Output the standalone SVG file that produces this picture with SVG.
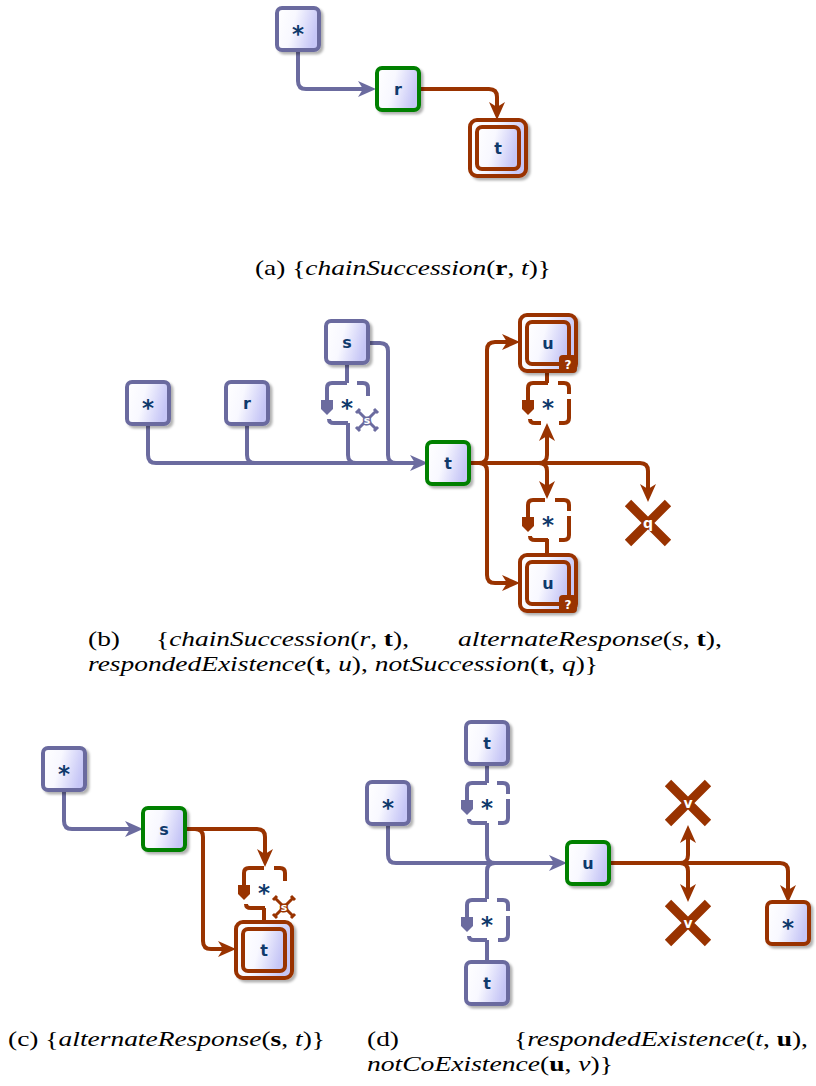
<svg xmlns="http://www.w3.org/2000/svg" width="816" height="1086" viewBox="0 0 816 1086">
<defs>
  <linearGradient id="g" x1="0" y1="0" x2="1" y2="0.25">
    <stop offset="0" stop-color="#ffffff"/>
    <stop offset="0.45" stop-color="#f8f8ff"/>
    <stop offset="1" stop-color="#c6c6f6"/>
  </linearGradient>
  <filter id="sh" x="-20%" y="-20%" width="150%" height="150%">
    <feDropShadow dx="2.5" dy="2.5" stdDeviation="1.2" flood-color="#000" flood-opacity="0.3"/>
  </filter>
  <marker id="ab" markerUnits="userSpaceOnUse" markerWidth="20" markerHeight="18" refX="6" refY="8" orient="auto" overflow="visible">
    <path d="M0,0 L18,8 L0,16 L5,8 Z" fill="#6b6b9f"/>
  </marker>
  <marker id="ar" markerUnits="userSpaceOnUse" markerWidth="20" markerHeight="18" refX="6" refY="8" orient="auto" overflow="visible">
    <path d="M0,0 L18,8 L0,16 L5,8 Z" fill="#993300"/>
  </marker>
</defs>
<style>
  .box{fill:url(#g);stroke-width:4;filter:url(#sh)}
  .in{fill:url(#g);stroke-width:4}
  .sb{stroke:#6b6b9f}
  .sr{stroke:#993300}
  .sg{stroke:#008000}
  .lbl{font-family:"DejaVu Sans",sans-serif;font-weight:bold;font-size:16px;fill:#0f3a6b;text-anchor:middle}
  .st{font-family:"DejaVu Sans",sans-serif;font-weight:bold;font-size:23px;fill:#0f3a6b;text-anchor:middle}
  .cb{fill:none;stroke:#6b6b9f;stroke-width:4}
  .cr{fill:none;stroke:#993300;stroke-width:4}
  .dl{fill:none;stroke-width:4;stroke-linecap:butt}
  .x{stroke:#993300;stroke-width:9;stroke-linecap:butt}
  .xl{font-family:"DejaVu Sans",sans-serif;font-weight:bold;font-size:14px;fill:#fff;text-anchor:middle}
  .bad{fill:#993300}
  .badt{font-family:"DejaVu Sans",sans-serif;font-weight:bold;font-size:12px;fill:#fff;text-anchor:middle}
  .sx{stroke-width:3}
  .sxl{font-family:"DejaVu Sans",sans-serif;font-weight:bold;font-size:11px;fill:#fff;stroke-width:3;paint-order:stroke;text-anchor:middle}
  .cap{font-family:"Liberation Serif",serif;font-size:22px;fill:#000}
  .it{font-style:italic}
  .bf{font-weight:bold}
</style>

<!-- ============ connectors ============ -->
<g id="connectors">
  <!-- (a) -->
  <path class="cb" d="M298 50 V81 Q298 89 306 89 H364" marker-end="url(#ab)"/>
  <path class="cr" d="M419 89 H489 Q497 89 497 97 V108" marker-end="url(#ar)"/>

  <!-- (b) blue -->
  <path class="cb" d="M148 423 V455 Q148 463 156 463 H416" marker-end="url(#ab)"/>
  <path class="cb" d="M247 423 V455 Q247 463 255 463"/>
  <path class="cb" d="M347 363 V383"/>
  <path class="cb" d="M348 423 V455 Q348 463 356 463"/>
  <path class="cb" d="M368 343 H380 Q388 343 388 351 V455 Q388 463 396 463"/>
  <!-- (b) red -->
  <path class="cr" d="M470 463 H640 Q648 463 648 471 V490" marker-end="url(#ar)"/>
  <path class="cr" d="M479 463 Q487 463 487 455 V350 Q487 342 495 342 H508" marker-end="url(#ar)"/>
  <path class="cr" d="M479 463 Q487 463 487 471 V575 Q487 583 495 583 H508" marker-end="url(#ar)"/>
  <path class="cr" d="M539 463 Q547 463 547 455 V435" marker-end="url(#ar)"/>
  <path class="cr" d="M539 463 Q547 463 547 471 V487" marker-end="url(#ar)"/>
  <path class="cr" d="M547 371 V383"/>
  <path class="cr" d="M547 539 V556"/>

  <!-- (c) -->
  <path class="cb" d="M64 790 V821 Q64 829 72 829 H131" marker-end="url(#ab)"/>
  <path class="cr" d="M185 829 H257 Q265 829 265 837 V855" marker-end="url(#ar)"/>
  <path class="cr" d="M195 829 Q203 829 203 837 V941 Q203 949 211 949 H224" marker-end="url(#ar)"/>
  <path class="cr" d="M264 908 V923"/>

  <!-- (d) blue -->
  <path class="cb" d="M388 824 V855 Q388 863 396 863 H555" marker-end="url(#ab)"/>
  <path class="cb" d="M487 763 V783"/>
  <path class="cb" d="M487 823 V855 Q487 863 495 863"/>
  <path class="cb" d="M487 899 V871 Q487 863 495 863"/>
  <path class="cb" d="M487 940 V962"/>
  <!-- (d) red -->
  <path class="cr" d="M609 863 H780 Q788 863 788 871 V891" marker-end="url(#ar)"/>
  <path class="cr" d="M680 863 Q688 863 688 855 V837" marker-end="url(#ar)"/>
  <path class="cr" d="M680 863 Q688 863 688 871 V890" marker-end="url(#ar)"/>
</g>

<!-- ============ (a) nodes ============ -->
<g id="a-any" transform="translate(298,29)">
  <rect class="box sb" x="-21" y="-21" width="42" height="42" rx="5"/>
  <text class="st" x="0" y="13">*</text>
</g>
<g id="a-r" transform="translate(398,89)">
  <rect class="box sg" x="-21" y="-21" width="42" height="42" rx="5"/>
  <text class="lbl" x="0" y="6">r</text>
</g>
<g id="a-t" transform="translate(498,148)">
  <rect class="box sr" x="-28" y="-28" width="56" height="56" rx="7"/>
  <rect class="in sr" x="-21" y="-21" width="42" height="42" rx="5"/>
  <text class="lbl" x="0" y="6">t</text>
</g>

<!-- ============ (b) nodes ============ -->
<g id="b-any" transform="translate(148,403)">
  <rect class="box sb" x="-21" y="-21" width="42" height="42" rx="5"/>
  <text class="st" x="0" y="13">*</text>
</g>
<g id="b-r" transform="translate(247,403)">
  <rect class="box sb" x="-21" y="-21" width="42" height="42" rx="5"/>
  <text class="lbl" x="0" y="6">r</text>
</g>
<g id="b-s" transform="translate(347,342)">
  <rect class="box sb" x="-21" y="-21" width="42" height="42" rx="5"/>
  <text class="lbl" x="0" y="6">s</text>
</g>
<g id="b-s-alt" transform="translate(326,382)">
  <path class="dl sb" d="M21 1 H6 Q1 1 1 6 V19"/>
  <path d="M-5 18 H7 V27 L1 33 L-5 27 Z" fill="#6b6b9f"/>
  <path class="dl sb" d="M31 1 H37 Q42 1 42 6 V14"/>
  <path class="dl sb" d="M3 37 Q3 41 8 41 H22"/>
  <text class="st" x="21" y="34">*</text>
  <g transform="translate(41,38)">
    <path class="sx sb" d="M-9 -9 L9 9 M-9 9 L9 -9 M-11 -7 L-7 -11 M7 -11 L11 -7 M-11 7 L-7 11 M7 11 L11 7"/>
    <text class="sxl sb" x="0" y="4">s</text>
  </g>
</g>
<g id="b-t" transform="translate(448,463)">
  <rect class="box sg" x="-21" y="-21" width="42" height="42" rx="5"/>
  <text class="lbl" x="0" y="6">t</text>
</g>
<g id="b-u-top" transform="translate(548,343)">
  <rect class="box sr" x="-28" y="-28" width="56" height="56" rx="7"/>
  <rect class="in sr" x="-21" y="-21" width="42" height="42" rx="5"/>
  <text class="lbl" x="0" y="6">u</text>
  <rect class="bad" x="11" y="12" width="18" height="18" rx="4"/>
  <text class="badt" x="20" y="26">?</text>
</g>
<g id="b-u-top-alt" transform="translate(527,382)">
  <path class="dl sr" d="M21 1 H6 Q1 1 1 6 V19"/>
  <path d="M-5 18 H7 V27 L1 33 L-5 27 Z" fill="#993300"/>
  <path class="dl sr" d="M31 1 H37 Q42 1 42 6 V12"/>
  <path class="dl sr" d="M42 17 V36 Q42 41 37 41 H32"/>
  <path class="dl sr" d="M3 37 Q3 41 8 41 H14"/>
  <text class="st" x="21" y="34">*</text>
</g>
<g id="b-u-bot-alt" transform="translate(527,499)">
  <path class="dl sr" d="M18 1 H6 Q1 1 1 6 V19"/>
  <path d="M-5 18 H7 V27 L1 33 L-5 27 Z" fill="#993300"/>
  <path class="dl sr" d="M28 1 H37 Q42 1 42 6 V12"/>
  <path class="dl sr" d="M42 17 V36 Q42 41 37 41 H32"/>
  <path class="dl sr" d="M3 37 Q3 41 8 41 H21"/>
  <text class="st" x="21" y="34">*</text>
</g>
<g id="b-u-bot" transform="translate(548,583)">
  <rect class="box sr" x="-28" y="-28" width="56" height="56" rx="7"/>
  <rect class="in sr" x="-21" y="-21" width="42" height="42" rx="5"/>
  <text class="lbl" x="0" y="6">u</text>
  <rect class="bad" x="11" y="12" width="18" height="18" rx="4"/>
  <text class="badt" x="20" y="26">?</text>
</g>
<g id="b-q" transform="translate(648,523)">
  <path class="x" d="M-20 -20 L20 20 M-20 20 L20 -20"/>
  <text class="xl" x="0" y="5">q</text>
</g>

<!-- ============ (c) nodes ============ -->
<g id="c-any" transform="translate(64,769)">
  <rect class="box sb" x="-21" y="-21" width="42" height="42" rx="5"/>
  <text class="st" x="0" y="13">*</text>
</g>
<g id="c-s" transform="translate(164,829)">
  <rect class="box sg" x="-21" y="-21" width="42" height="42" rx="5"/>
  <text class="lbl" x="0" y="6">s</text>
</g>
<g id="c-alt" transform="translate(243,867)">
  <path class="dl sr" d="M21 1 H6 Q1 1 1 6 V19"/>
  <path d="M-5 18 H7 V27 L1 33 L-5 27 Z" fill="#993300"/>
  <path class="dl sr" d="M31 1 H37 Q42 1 42 6 V14"/>
  <path class="dl sr" d="M3 37 Q3 41 8 41 H22"/>
  <text class="st" x="21" y="34">*</text>
  <g transform="translate(41,40)">
    <path class="sx sr" d="M-9 -9 L9 9 M-9 9 L9 -9 M-11 -7 L-7 -11 M7 -11 L11 -7 M-11 7 L-7 11 M7 11 L11 7"/>
    <text class="sxl sr" x="0" y="4">s</text>
  </g>
</g>
<g id="c-t" transform="translate(264,950)">
  <rect class="box sr" x="-28" y="-28" width="56" height="56" rx="7"/>
  <rect class="in sr" x="-21" y="-21" width="42" height="42" rx="5"/>
  <text class="lbl" x="0" y="6">t</text>
</g>

<!-- ============ (d) nodes ============ -->
<g id="d-any" transform="translate(388,803)">
  <rect class="box sb" x="-21" y="-21" width="42" height="42" rx="5"/>
  <text class="st" x="0" y="13">*</text>
</g>
<g id="d-t-top" transform="translate(487,743)">
  <rect class="box sb" x="-21" y="-21" width="42" height="42" rx="5"/>
  <text class="lbl" x="0" y="6">t</text>
</g>
<g id="d-top-alt" transform="translate(466,782)">
  <path class="dl sb" d="M21 1 H6 Q1 1 1 6 V19"/>
  <path d="M-5 18 H7 V27 L1 33 L-5 27 Z" fill="#6b6b9f"/>
  <path class="dl sb" d="M31 1 H37 Q42 1 42 6 V12"/>
  <path class="dl sb" d="M42 17 V36 Q42 41 37 41 H32"/>
  <path class="dl sb" d="M3 37 Q3 41 8 41 H21"/>
  <text class="st" x="21" y="34">*</text>
</g>
<g id="d-bot-alt" transform="translate(466,899)">
  <path class="dl sb" d="M21 1 H6 Q1 1 1 6 V19"/>
  <path d="M-5 18 H7 V27 L1 33 L-5 27 Z" fill="#6b6b9f"/>
  <path class="dl sb" d="M31 1 H37 Q42 1 42 6 V12"/>
  <path class="dl sb" d="M42 17 V36 Q42 41 37 41 H32"/>
  <path class="dl sb" d="M3 37 Q3 41 8 41 H21"/>
  <text class="st" x="21" y="34">*</text>
</g>
<g id="d-t-bot" transform="translate(487,983)">
  <rect class="box sb" x="-21" y="-21" width="42" height="42" rx="5"/>
  <text class="lbl" x="0" y="6">t</text>
</g>
<g id="d-u" transform="translate(588,863)">
  <rect class="box sg" x="-21" y="-21" width="42" height="42" rx="5"/>
  <text class="lbl" x="0" y="6">u</text>
</g>
<g id="d-v-top" transform="translate(688,803)">
  <path class="x" d="M-20 -20 L20 20 M-20 20 L20 -20"/>
  <text class="xl" x="0" y="5">v</text>
</g>
<g id="d-v-bot" transform="translate(688,923)">
  <path class="x" d="M-20 -20 L20 20 M-20 20 L20 -20"/>
  <text class="xl" x="0" y="5">v</text>
</g>
<g id="d-any-red" transform="translate(788,923)">
  <rect class="box sr" x="-21" y="-21" width="42" height="42" rx="5"/>
  <text class="st" x="0" y="13">*</text>
</g>

<!-- ============ captions ============ -->
<g id="captions">
  <text class="cap" x="255" y="275" textLength="296" lengthAdjust="spacingAndGlyphs">(a) {<tspan class="it">chainSuccession</tspan>(<tspan class="bf">r</tspan>, <tspan class="it">t</tspan>)}</text>
  <text class="cap" x="88" y="646" textLength="32" lengthAdjust="spacingAndGlyphs">(b)</text>
  <text class="cap" x="156" y="646" textLength="253" lengthAdjust="spacingAndGlyphs">{<tspan class="it">chainSuccession</tspan>(<tspan class="it">r</tspan>, <tspan class="bf">t</tspan>),</text>
  <text class="cap" x="458" y="646" textLength="264" lengthAdjust="spacingAndGlyphs"><tspan class="it">alternateResponse</tspan>(<tspan class="it">s</tspan>, <tspan class="bf">t</tspan>),</text>
  <text class="cap" x="88" y="671" textLength="510" lengthAdjust="spacingAndGlyphs"><tspan class="it">respondedExistence</tspan>(<tspan class="bf">t</tspan>, <tspan class="it">u</tspan>), <tspan class="it">notSuccession</tspan>(<tspan class="bf">t</tspan>, <tspan class="it">q</tspan>)}</text>
  <text class="cap" x="8" y="1046" textLength="317" lengthAdjust="spacingAndGlyphs">(c) {<tspan class="it">alternateResponse</tspan>(<tspan class="bf">s</tspan>, <tspan class="it">t</tspan>)}</text>
  <text class="cap" x="367" y="1046" textLength="32" lengthAdjust="spacingAndGlyphs">(d)</text>
  <text class="cap" x="514" y="1046" textLength="294" lengthAdjust="spacingAndGlyphs">{<tspan class="it">respondedExistence</tspan>(<tspan class="it">t</tspan>, <tspan class="bf">u</tspan>),</text>
  <text class="cap" x="367" y="1071" textLength="246" lengthAdjust="spacingAndGlyphs"><tspan class="it">notCoExistence</tspan>(<tspan class="bf">u</tspan>, <tspan class="it">v</tspan>)}</text>
</g>
</svg>
